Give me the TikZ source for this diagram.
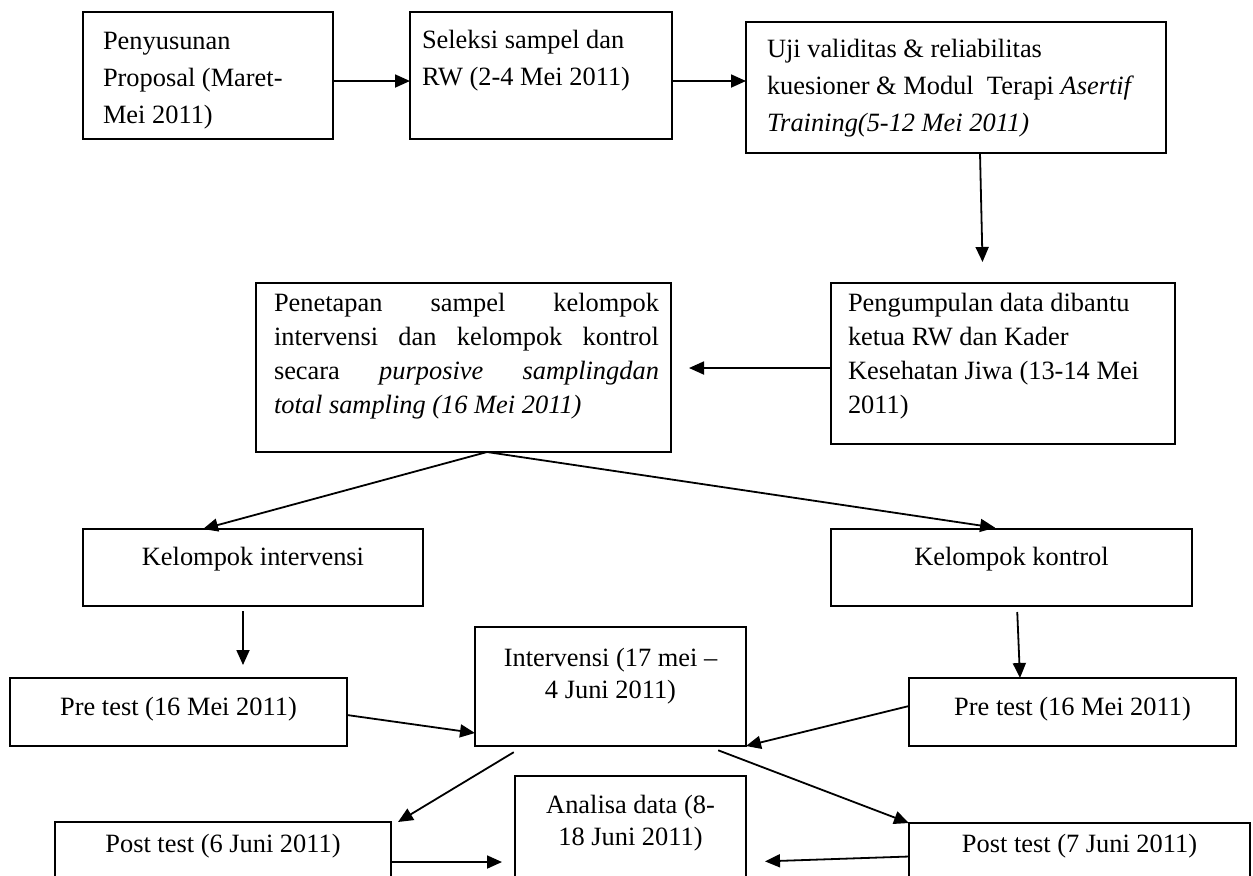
\documentclass[tikz,border=0pt]{standalone}
\usepackage{fontspec}
\setmainfont{Liberation Serif}
\usetikzlibrary{arrows.meta}
% #1 width px, #2 height px, #3 first baseline below top px, #4 lines
\newcommand\inbox[4]{\parbox[c][\dimexpr #2pt/2\relax][t]{\dimexpr #1pt/2\relax}{\vskip\dimexpr #3pt/2-\ht\strutbox\relax #4}}
\newcommand\lineL[2]{\hbox to\hsize{\hskip\dimexpr #1pt/2\relax\strut #2\hfil}}
\newcommand\lineC[1]{\hbox to\hsize{\hfil\strut #1\hfil}}
\newcommand\lineJ[1]{\hbox to\hsize{\hskip9pt\strut #1\hskip6pt}}
\begin{document}
\begin{tikzpicture}[x=0.5pt,y=-0.5pt,
  bx/.style={draw, line width=1pt, inner sep=0pt, outer sep=0pt, anchor=north west},
  toprow/.style={font=\fontsize{13.2pt}{18.5pt}\selectfont},
  midrow/.style={font=\fontsize{13.2pt}{17pt}\selectfont},
  lowrow/.style={font=\fontsize{13.2pt}{16pt}\selectfont},
  arr/.style={-{Triangle[length=7.5pt,width=6.5pt]}, line width=0.9pt}]
\useasboundingbox (0,0) rectangle (1253,875);
\fill[white] (0,0) rectangle (1253,875);
\clip (0,0) rectangle (1253,875);
% top row
\node[bx,toprow] (p1) at (83,12) {\inbox{250}{127}{37}{\lineL{20}{Penyusunan}\lineL{20}{Proposal (Maret-}\lineL{20}{Mei 2011)}}};
\node[bx,toprow] (p2) at (410,12) {\inbox{262}{127}{36}{\lineL{12}{Seleksi sampel dan}\lineL{12}{RW (2-4 Mei 2011)}}};
\node[bx,toprow] (p3) at (746,22) {\inbox{420}{131}{35}{\lineL{21}{Uji validitas \& reliabilitas}\lineL{21}{kuesioner \& Modul\ \ Terapi \textit{Asertif}}\lineL{21}{\textit{Training(5-12 Mei 2011)}}}};
% second row
\node[bx,midrow] (p4) at (831,283) {\inbox{344}{161}{28}{\lineL{17}{Pengumpulan data dibantu}\lineL{17}{ketua RW dan Kader}\lineL{17}{Kesehatan Jiwa (13-14 Mei}\lineL{17}{2011)}}};
\node[bx,midrow] (p5) at (256,283) {\inbox{415}{169}{28}{%
  \lineJ{Penetapan\hfill sampel\hfill kelompok}%
  \lineJ{intervensi\hfill dan\hfill kelompok\hfill kontrol}%
  \lineJ{secara\hfill \textit{purposive}\hfill \textit{samplingdan}}%
  \lineJ{\textit{total sampling (16 Mei 2011)}\hfil}}};
% groups
\node[bx,lowrow] (k1) at (83,529) {\inbox{340}{77}{36}{\lineC{Kelompok intervensi}}};
\node[bx,lowrow] (k2) at (831,529) {\inbox{361}{77}{36}{\lineC{Kelompok kontrol}}};
% pre tests and intervention
\node[bx,lowrow] (r1) at (10,678) {\inbox{337}{68}{37}{\lineC{Pre test (16 Mei 2011)}}};
\node[bx,lowrow] (r2) at (909,678) {\inbox{327}{68}{37}{\lineC{Pre test (16 Mei 2011)}}};
\node[bx,lowrow] (iv) at (475,627) {\inbox{271}{119}{39}{\lineC{Intervensi (17 mei \textendash}\lineC{4 Juni 2011)}}};
% post tests and analysis
\node[bx,lowrow] (s1) at (55,822) {\inbox{336}{80}{30}{\lineC{Post test (6 Juni 2011)}}};
\node[bx,lowrow] (s2) at (909,823) {\inbox{341}{78}{29}{\lineC{Post test (7 Juni 2011)}}};
\node[bx,lowrow] (an) at (515,776) {\inbox{231}{124}{37}{\lineC{Analisa data (8-}\lineC{18 Juni 2011)}}};
% connectors
\draw[arr] ([yshift=-2.75pt]p1.east) coordinate (a1) -- (a1 -| p2.west);
\draw[arr] ([yshift=-2.75pt]p2.east) coordinate (a2) -- (a2 -| p3.west);
\draw[arr, shorten >=10.5pt] ([xshift=12pt]p3.south) -- ([xshift=-10pt]p4.north);
\draw[arr, shorten >=9pt] ([yshift=-2.25pt]p4.west) coordinate (a4) -- (a4 -| p5.east);
\draw[arr] ([xshift=11.75pt]p5.south) -- ([xshift=-25pt]k1.north);
\draw[arr, shorten >=4.5pt] ([xshift=11.75pt]p5.south) -- ([xshift=-3.75pt]k2.north);
\draw[arr, shorten <=2.5pt, shorten >=6.5pt] ([xshift=-5pt]k1.south) -- ([xshift=32.25pt]r1.north);
\draw[arr, shorten <=3pt] ([xshift=2.75pt]k2.south) -- ([xshift=-26.25pt]r2.north);
\draw[arr] ([yshift=-1.5pt]r1.east) -- ([yshift=-23.25pt]iv.west);
\draw[arr] ([yshift=3pt]r2.west) -- (iv.south east);
\draw[arr, shorten <=6pt] ([xshift=-43.25pt]iv.south) -- ([xshift=3.5pt]s1.north east);
\draw[arr, shorten <=6pt] ([xshift=48.25pt]iv.south) -- (s2.north west);
\draw[arr, shorten >=6.5pt] (s1.east) -- (s1.east -| an.west);
\draw[arr, shorten >=9.5pt] ([yshift=2.75pt]s2.west) -- ([yshift=-12pt]an.east);
\end{tikzpicture}
\end{document}
